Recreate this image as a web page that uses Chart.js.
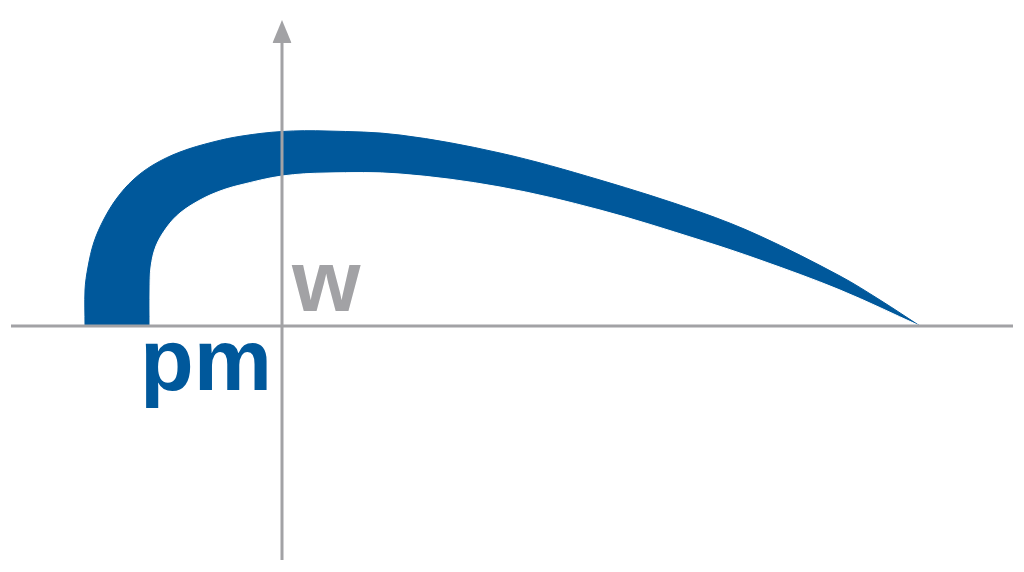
<!DOCTYPE html>
<html>
<head>
<meta charset="utf-8">
<script src="https://cdn.jsdelivr.net/npm/chart.js@4.4.1/dist/chart.umd.min.js"></script>
<style>
  html, body { margin: 0; padding: 0; background: #ffffff; }
  #wrap { width: 1024px; height: 572px; position: relative; }
</style>
</head>
<body>
<div id="wrap"><canvas id="logo"></canvas></div>
<script>
// curve points, origin at the axes crossing, y up
const outerX = [-197, -197, -194, -188, -178, -165, -149, -129, -102, -69, -40, 0, 45, 118, 218, 318, 418, 478, 558, 598, 638];
const outerY = [0, 36, 59, 84, 107, 128, 146, 161, 174, 184, 190, 194.5, 195, 191, 173, 146, 114, 90, 50, 26, 0];
const innerX = [-132, -132, -131, -126, -115, -102, -82, -62, -42, 0, 45, 118, 218, 318, 418, 478, 558, 638];
const innerY = [0, 36, 59, 80, 99, 113, 126, 135, 141, 150, 153, 152, 139, 116, 86, 66, 36, 0];

// axes and arrow head
const hAxisX = [-271, 731];
const vAxisY = [-234, 283];
const arrowX = [-9.5, 0, 9.5];
const arrowY = [283, 306, 283];

// labels
const labelW = 'w';
const labelPM = 'pm';

const BLUE = '#00589b';
const GREY = '#a2a2a5';

const toPoints = (xs, ys) => xs.map((x, i) => ({ x, y: ys[i] }));

// draws the two word marks at data positions
const wordMarks = {
  id: 'wordMarks',
  afterDatasetsDraw(chart) {
    const { ctx, scales: { x, y } } = chart;
    ctx.save();
    ctx.font = 'bold 88px "Liberation Sans", Arial, sans-serif';
    ctx.textBaseline = 'alphabetic';
    ctx.fillStyle = GREY;
    ctx.textAlign = 'left';
    ctx.fillText(labelW, x.getPixelForValue(10), y.getPixelForValue(15));
    ctx.fillStyle = BLUE;
    ctx.textAlign = 'right';
    ctx.fillText(labelPM, x.getPixelForValue(-10), y.getPixelForValue(-64));
    ctx.restore();
  }
};

// higher order is drawn first: outer band, then white inside, then axes
new Chart(document.getElementById('logo'), {
  type: 'line',
  data: {
    datasets: [
      {
        data: toPoints(hAxisX, [0, 0]),
        borderColor: GREY, borderWidth: 3, pointRadius: 0, fill: false, order: 0
      },
      {
        data: toPoints([0, 0], vAxisY),
        borderColor: GREY, borderWidth: 3, pointRadius: 0, fill: false, order: 0
      },
      {
        data: toPoints(arrowX, arrowY),
        borderColor: GREY, borderWidth: 0, backgroundColor: GREY,
        pointRadius: 0, tension: 0, fill: { value: 283 }, order: 0
      },
      {
        data: toPoints(outerX, outerY),
        borderColor: BLUE, borderWidth: 1, backgroundColor: BLUE,
        pointRadius: 0, tension: 0.35, fill: 'origin', order: 2
      },
      {
        data: toPoints(innerX, innerY),
        borderColor: '#ffffff', borderWidth: 1, backgroundColor: '#ffffff',
        pointRadius: 0, tension: 0.35, fill: 'origin', order: 1
      }
    ]
  },
  options: {
    responsive: true,
    maintainAspectRatio: false,
    animation: false,
    events: [],
    layout: { padding: 0 },
    plugins: { legend: { display: false }, tooltip: { enabled: false } },
    scales: {
      x: { type: 'linear', min: -282, max: 742, display: false },
      y: { type: 'linear', min: -246, max: 326, display: false }
    }
  },
  plugins: [wordMarks]
});
</script>
</body>
</html>
